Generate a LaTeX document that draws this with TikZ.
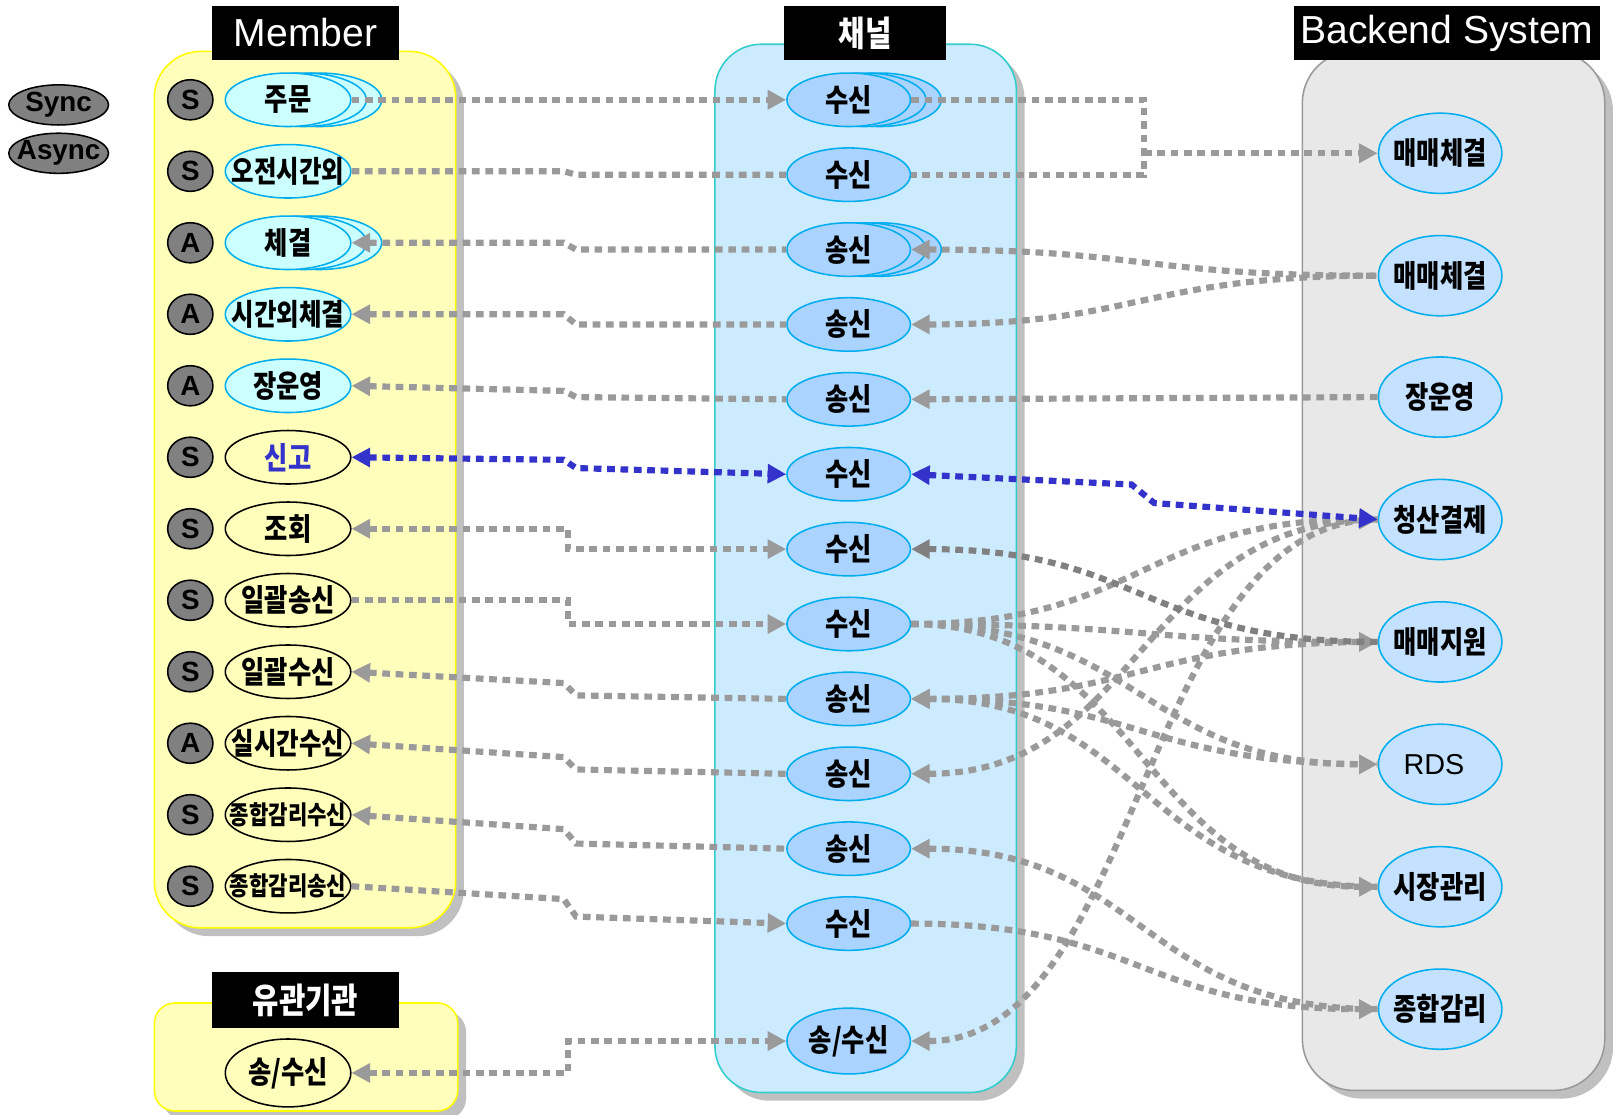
\documentclass[tikz,border=0pt]{standalone}
\usepackage{fontspec}
\setmainfont{Liberation Sans}
\newfontfamily\kr{Noto Sans CJK KR}[FakeStretch=0.82]
\usetikzlibrary{arrows.meta,shapes.geometric,calc}

\definecolor{memfill}{HTML}{FFFFBB}
\definecolor{memborder}{HTML}{FFFF00}
\definecolor{chfill}{HTML}{CCEBFF}
\definecolor{chborder}{HTML}{33CCCC}
\definecolor{befill}{HTML}{E8E8E8}
\definecolor{beborder}{HTML}{999999}
\definecolor{shadowc}{HTML}{C0C0C0}
\definecolor{cnodefill}{HTML}{AAD4FF}
\definecolor{bnodefill}{HTML}{C4E2FF}
\definecolor{mcyanfill}{HTML}{CCFFFF}
\definecolor{lgray}{HTML}{9A9A9A}
\definecolor{dgray}{HTML}{808080}
\definecolor{blueln}{HTML}{3333CC}
\definecolor{badgegray}{HTML}{808080}

\tikzset{
  >={Triangle[length=18pt,width=18pt]},
  every node/.style={inner sep=0pt},
  zerow/.style={execute at begin node={\hbox to 0pt\bgroup\hss}, execute at end node={\hss\egroup}},
  krtext/.style={font=\kr\bfseries\fontsize{30}{30}\selectfont, zerow},
  badge/.style={ellipse,draw=black,line width=1.5pt,fill=badgegray,minimum width=44pt,minimum height=39pt,font=\bfseries\fontsize{27}{27}\selectfont},
  legend/.style={ellipse,draw=black,line width=1.5pt,fill=badgegray,minimum width=97pt,minimum height=39pt,font=\bfseries\fontsize{27}{27}\selectfont,zerow},
  memc/.style={ellipse,draw=cyan,fill=mcyanfill,line width=1.5pt,minimum width=122pt,minimum height=52pt,krtext},
  memb/.style={ellipse,draw=black,line width=1.5pt,minimum width=122pt,minimum height=52pt,krtext},
  chn/.style={ellipse,draw=cyan,fill=cnodefill,line width=1.5pt,minimum width=120pt,minimum height=52pt,krtext},
  ben/.style={ellipse,draw=cyan,fill=bnodefill,line width=1.5pt,minimum width=120pt,minimum height=78pt,krtext},
  titlebox/.style={fill=black,text=white,minimum height=52pt},
  conn/.style={draw=lgray,line width=6pt,dash pattern=on 7.5pt off 5.5pt},
  connblue/.style={draw=blueln,line width=6pt,dash pattern=on 7.5pt off 5.5pt},
}

\begin{document}
\begin{tikzpicture}[x=1pt,y=-1pt]
\useasboundingbox (0,0) rectangle (1568,1083);

% shadows
\fill[shadowc,rounded corners=45pt] (158,58) rectangle (451,910);
\fill[shadowc,rounded corners=45pt] (703,51) rectangle (996,1070);
\fill[shadowc,rounded corners=50pt] (1274,58) rectangle (1568,1068);
\fill[shadowc,rounded corners=20pt] (158,983) rectangle (453,1088);

% boxes
\draw[memborder,fill=memfill,line width=1.5pt,rounded corners=45pt] (150,50) rectangle (443,902);
\draw[chborder,fill=chfill,line width=1.5pt,rounded corners=45pt] (695,43) rectangle (988,1062);
\draw[beborder,fill=befill,line width=1.5pt,rounded corners=50pt] (1266,50) rectangle (1560,1060);
\draw[memborder,fill=memfill,line width=1.5pt,rounded corners=20pt] (150,975) rectangle (445,1080);

% titles
\node[titlebox,minimum width=182pt,font=\fontsize{38}{38}\selectfont] (tm) at (297,32) {Member};
\node[titlebox,minimum width=158pt,font=\kr\bfseries\fontsize{34}{34}\selectfont] (tc) at (841,32) {채널};
\node[titlebox,minimum width=297pt,font=\fontsize{38}{38}\selectfont] (tb) at (1406.5,32) {Backend System};
\node[titlebox,minimum width=182pt,minimum height=54pt,font=\kr\bfseries\fontsize{34}{34}\selectfont] (tr) at (297,972) {유관기관};

% legend
\node[legend] (lsync) at (57,102) {Sync};
\node[legend] (lasync) at (57,149) {Async};

% badges
\node[badge] (s1) at (185,97) {S};
\node[badge] (s2) at (185,166.5) {S};
\node[badge] (s3) at (185,236) {A};
\node[badge] (s4) at (185,305.5) {A};
\node[badge] (s5) at (185,375) {A};
\node[badge] (s6) at (185,444.5) {S};
\node[badge] (s7) at (185,514) {S};
\node[badge] (s8) at (185,583.5) {S};
\node[badge] (s9) at (185,653) {S};
\node[badge] (s10) at (185,722.5) {A};
\node[badge] (s11) at (185,792) {S};
\node[badge] (s12) at (185,861.5) {S};

% member nodes
\node[memc] (m1b) at (310,97) {};
\node[memc] (m1a) at (295,97) {};
\node[memc] (m1) at (280,97) {주문};
\node[memc,font=\kr\bfseries\fontsize{29}{29}\selectfont] (m2) at (280,166.5) {오전시간외};
\node[memc] (m3b) at (310,236) {};
\node[memc] (m3a) at (295,236) {};
\node[memc] (m3) at (280,236) {체결};
\node[memc,font=\kr\bfseries\fontsize{29}{29}\selectfont] (m4) at (280,305.5) {시간외체결};
\node[memc] (m5) at (280,375) {장운영};
\node[memb,text=blueln] (m6) at (280,444.5) {신고};
\node[memb] (m7) at (280,514) {조회};
\node[memb] (m8) at (280,583.5) {일괄송신};
\node[memb] (m9) at (280,653) {일괄수신};
\node[memb,font=\kr\bfseries\fontsize{29}{29}\selectfont] (m10) at (280,722.5) {실시간수신};
\node[memb,font=\kr\bfseries\fontsize{25}{25}\selectfont] (m11) at (280,792) {종합감리수신};
\node[memb,font=\kr\bfseries\fontsize{25}{25}\selectfont] (m12) at (280,861.5) {종합감리송신};
\node[memb,minimum height=66pt] (mk) at (280,1043) {송/수신};

% channel nodes
\node[chn] (c1b) at (855,97) {};
\node[chn] (c1a) at (840,97) {};
\node[chn] (c1) at (825,97) {수신};
\node[chn] (c2) at (825,169.8) {수신};
\node[chn] (c3b) at (855,242.6) {};
\node[chn] (c3a) at (840,242.6) {};
\node[chn] (c3) at (825,242.6) {송신};
\node[chn] (c4) at (825,315.4) {송신};
\node[chn] (c5) at (825,388.2) {송신};
\node[chn] (c6) at (825,461) {수신};
\node[chn] (c7) at (825,533.8) {수신};
\node[chn] (c8) at (825,606.6) {수신};
\node[chn] (c9) at (825,679.4) {송신};
\node[chn] (c10) at (825,752.2) {송신};
\node[chn] (c11) at (825,825) {송신};
\node[chn] (c12) at (825,897.8) {수신};
\node[chn,minimum height=64pt] (c13) at (825,1012) {송/수신};

% backend nodes
\node[ben] (b1) at (1400,149) {매매체결};
\node[ben] (b2) at (1400,268) {매매체결};
\node[ben] (b3) at (1400,386) {장운영};
\node[ben] (b4) at (1400,505) {청산결제};
\node[ben] (b5) at (1400,624) {매매지원};
\node[ben,font=\fontsize{28}{28}\selectfont] (b6) at (1400,743) {\hspace*{-12pt}RDS};
\node[ben] (b7) at (1400,862) {시장관리};
\node[ben] (b8) at (1400,981) {종합감리};

% helper columns
\coordinate (jl) at (548,0);
\coordinate (jr) at (560,0);
\coordinate (jm) at (552,0);
\coordinate (rx) at (1112,0);
\coordinate (xm) at (1110,0);

% member <-> channel connectors
\draw[conn,->] (m1.east) -- (c1.west);
\draw[conn] (m2.east) -- (m2.east -| jl) -- (c2.west -| jr) -- (c2.west);
\draw[conn,<-] (m3.east) -- (m3.east -| jl) -- (c3.west -| jr) -- (c3.west);
\draw[conn,<-] (m4.east) -- (m4.east -| jl) -- (c4.west -| jr) -- (c4.west);
\draw[conn,<-] (m5.east) -- (548,380) -- (560,386) -- (c5.west);
\draw[connblue,<->] (m6.east) -- (548,447) -- (560,455) -- (c6.west);
\draw[conn,<->] (m7.east) -- (m7.east -| jm) -- (c7.west -| jm) -- (c7.west);
\draw[conn,->] (m8.east) -- (m8.east -| jm) -- (c8.west -| jm) -- (c8.west);
\draw[conn,<-] (m9.east) -- (548,664) -- (560,676) -- (c9.west);
\draw[conn,<-] (m10.east) -- (548,736) -- (560,748) -- (c10.west);
\draw[conn,<-] (m11.east) -- (548,806) -- (560,820) -- (c11.west);
\draw[conn,->] (m12.east) -- (548,874) -- (560,891) -- (c12.west);
\draw[conn,<->] (mk.east) -- (mk.east -| jm) -- (c13.west -| jm) -- (c13.west);

% channel <-> backend connectors
\draw[conn] (c1.east) -- (c1.east -| rx) -- (c2.east -| rx) -- (c2.east);
\draw[conn,->] (b1.west -| rx) -- (b1.west);
\draw[conn,<-] (c3.east) .. controls (c3.east -| xm) and (b2.west -| xm) .. (b2.west);
\draw[conn,<-] (c4.east) .. controls (c4.east -| xm) and (b2.west -| xm) .. (b2.west);
\draw[conn,<-] (c5.east) -- (b3.west);
\draw[conn,<-] (c9.east) .. controls (c9.east -| xm) and (b5.west -| xm) .. (b5.west);
\draw[conn,<-] (c9.east) .. controls (c9.east -| xm) and (b6.west -| xm) .. (b6.west);
\draw[conn,<-] (c9.east) .. controls (c9.east -| xm) and (b7.west -| xm) .. (b7.west);
\draw[conn,<-] (c10.east) .. controls (c10.east -| xm) and (b4.west -| xm) .. (b4.west);
\draw[conn,<-] (c13.east) .. controls (c13.east -| xm) and (b4.west -| xm) .. (b4.west);
\draw[conn,<-] (c11.east) .. controls (c11.east -| xm) and (b8.west -| xm) .. (b8.west);
\draw[conn,->] (c12.east) .. controls (c12.east -| xm) and (b8.west -| xm) .. (b8.west);
\draw[conn,->] (c8.east) .. controls (c8.east -| xm) and (b4.west -| xm) .. (b4.west);
\draw[conn,->] (c8.east) .. controls (c8.east -| xm) and (b5.west -| xm) .. (b5.west);
\draw[conn,->] (c8.east) .. controls (c8.east -| xm) and (b6.west -| xm) .. (b6.west);
\draw[conn,->] (c8.east) .. controls (c8.east -| xm) and (b7.west -| xm) .. (b7.west);
\draw[conn,draw=dgray,<-] (c7.east) .. controls (c7.east -| xm) and (b5.west -| xm) .. (b5.west);
\draw[connblue,<->] (c6.east) -- (1100,471) -- (1122,489) -- (b4.west);
\end{tikzpicture}
\end{document}
